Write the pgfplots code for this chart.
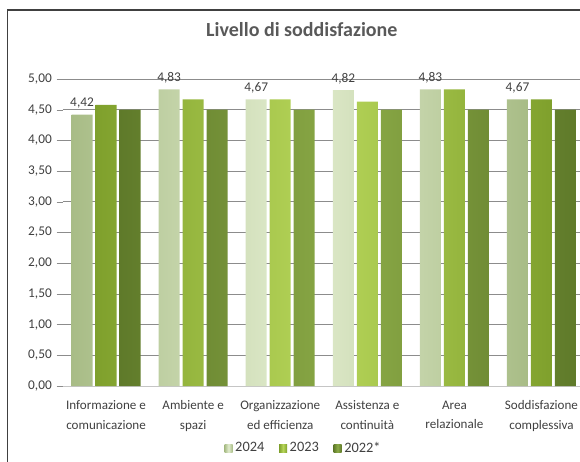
\documentclass[border=0pt]{standalone}
\usepackage{pgfplots}
\pgfplotsset{compat=1.18}
\usepackage{fontspec}
\setmainfont{Carlito}

\definecolor{txt}{HTML}{404040}
\definecolor{ttl}{HTML}{595959}
\definecolor{gridc}{HTML}{8C8C8C}
\definecolor{aEdge}{HTML}{A8BC86}
\definecolor{aMid}{HTML}{E2EDCF}
\definecolor{bEdge}{HTML}{7FA02C}
\definecolor{bMid}{HTML}{B7D65A}
\definecolor{cEdge}{HTML}{5F7A2A}
\definecolor{cMid}{HTML}{8CAB47}

\begin{document}
\begin{tikzpicture}
% bounding box = 580x461 px at 0.75pt/px, origin at axis south west
\path[use as bounding box] (-46.875pt,-56.25pt) rectangle (388.125pt,289.5pt);
\draw[black!75, line width=0.8pt] (-41.25pt,-80pt) -- (-41.25pt,282pt) -- (420pt,282pt);
\begin{axis}[
    at={(0pt,0pt)}, anchor=south west,
    scale only axis,
    width=391.9pt, height=230.25pt,
    ybar=2.25pt, bar width=15.75pt,
    xmin=-0.5, xmax=5.5,
    ymin=0, ymax=5,
    ytick={0,0.5,...,5},
    xtick=data,
    xticklabels={{Informazione e\\comunicazione},{Ambiente e\\spazi},{Organizzazione\\ed efficienza},{Assistenza e\\continuità},{Area\\relazionale},{Soddisfazione\\complessiva}},
    xticklabel style={align=center, font=\fontsize{9.8pt}{14.5pt}\selectfont, text=txt, yshift=-3pt},
    yticklabel style={font=\fontsize{10pt}{12pt}\selectfont, text=txt},
    /pgf/number format/assume math mode=true,
    y tick label style={/pgf/number format/.cd, fixed, fixed zerofill, precision=2, use comma},
    axis x line*=bottom,
    axis y line*=left,
    x axis line style={draw=gridc!50},
    y axis line style={draw=none},
    major x tick style={draw=none},
    major y tick style={draw=gridc},
    ytick align=outside, major tick length=4.5pt,
    ymajorgrids, grid style={draw=gridc, line width=0.6pt},
    clip=false,
    title={\textbf{Livello di soddisfazione}},
    title style={at={(0.458,1.1336)}, anchor=center, font=\fontsize{15pt}{18pt}\selectfont, text=ttl},
    legend style={at={(0.462,-0.202)}, anchor=center, draw=none, fill=none,
        legend columns=-1, font=\fontsize{10.8pt}{12pt}\selectfont, text=txt,
        /tikz/every even column/.append style={column sep=9pt}},
    legend image code/.code={\path[#1] (0pt,-3pt) rectangle (6pt,3pt);},
]
\addplot[draw=none, left color=aEdge, right color=aEdge, middle color=aMid,
    nodes near coords, nodes near coords style={font=\fontsize{10pt}{12pt}\selectfont, text=txt, yshift=1pt,
      /pgf/number format/.cd, fixed, fixed zerofill, precision=2, use comma, assume math mode=true}]
    coordinates {(0,4.42) (1,4.83) (2,4.67) (3,4.82) (4,4.83) (5,4.67)};
\addlegendentry{2024}
\addplot[draw=none, left color=bEdge, right color=bEdge, middle color=bMid]
    coordinates {(0,4.58) (1,4.67) (2,4.67) (3,4.63) (4,4.83) (5,4.67)};
\addlegendentry{2023}
\addplot[draw=none, left color=cEdge, right color=cEdge, middle color=cMid]
    coordinates {(0,4.50) (1,4.50) (2,4.50) (3,4.50) (4,4.50) (5,4.50)};
\addlegendentry{2022*}
\end{axis}
\end{tikzpicture}
\end{document}
